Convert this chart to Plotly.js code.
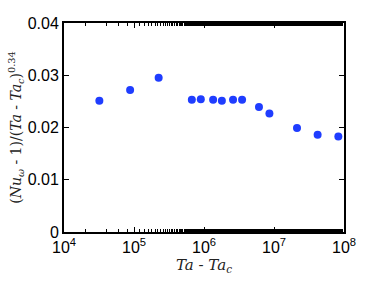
<!DOCTYPE html>
<html><head><meta charset="utf-8">
<script src="https://cdn.plot.ly/plotly-3.0.1.min.js"></script>
<style>body{margin:0;padding:0;background:#fff}#chart{width:374px;height:281px}</style>
</head><body><div id="chart"></div>
<script>
const taDiff = [3.2e4, 8.8e4, 2.25e5, 6.7e5, 9.0e5, 1.35e6, 1.8e6, 2.6e6, 3.5e6, 6.1e6, 8.6e6, 2.13e7, 4.2e7, 8.3e7];
const nuScaled = [0.0251, 0.0272, 0.0295, 0.0253, 0.0254, 0.0253, 0.0251, 0.0253, 0.0253, 0.0239, 0.0227, 0.0199, 0.0186, 0.0183];
const xTickVals = [1e4, 1e5, 1e6, 1e7, 1e8];
const xTickText = ['10<sup>4</sup>', '10<sup>5</sup>', '10<sup>6</sup>', '10<sup>7</sup>', '10<sup>8</sup>'];
const yTickVals = [0, 0.01, 0.02, 0.03, 0.04];
const yTickText = ['0', '0.01', '0.02', '0.03', '0.04'];

const trace = {
  x: taDiff, y: nuScaled, type: 'scatter', mode: 'markers',
  marker: {color: '#1f3dff', size: 8},
  hoverinfo: 'skip'
};
const layout = {
  width: 374, height: 281,
  margin: {l: 64, r: 30, t: 23, b: 49},
  paper_bgcolor: '#fff', plot_bgcolor: '#fff',
  showlegend: false,
  font: {family: 'Liberation Sans, Arial, sans-serif', size: 16, color: '#000'},
  xaxis: {
    type: 'log', range: [4, 8],
    tickvals: xTickVals, ticktext: xTickText,
    ticks: 'inside', ticklen: 5, tickwidth: 1, tickcolor: '#000',
    minor: {ticks: 'inside', ticklen: 3, tickwidth: 1, tickcolor: '#000', showgrid: false},
    showline: true, linecolor: '#000', linewidth: 2, mirror: 'ticks',
    showgrid: false, zeroline: false,
    tickfont: {size: 16},
    title: {text: '<i>Ta</i> - <i>Ta</i><sub><i>c</i></sub>', font: {family: 'DejaVu Serif, serif', size: 15, color: '#222'}, standoff: 1}
  },
  yaxis: {
    range: [0, 0.04],
    tickvals: yTickVals, ticktext: yTickText,
    ticks: 'inside', ticklen: 5, tickwidth: 1, tickcolor: '#000',
    showline: true, linecolor: '#000', linewidth: 2, mirror: 'ticks',
    showgrid: false, zeroline: false,
    tickfont: {size: 16},
    title: {text: '(<i>Nu</i><sub><i>ω</i></sub> - 1)/(<i>Ta</i> - <i>Ta</i><sub><i>c</i></sub>)<sup>0.34</sup>', font: {family: 'DejaVu Serif, serif', size: 14, color: '#222'}, standoff: 3}
  }
};
Plotly.newPlot('chart', [trace], layout, {staticPlot: true, displayModeBar: false});
</script>
</body></html>
